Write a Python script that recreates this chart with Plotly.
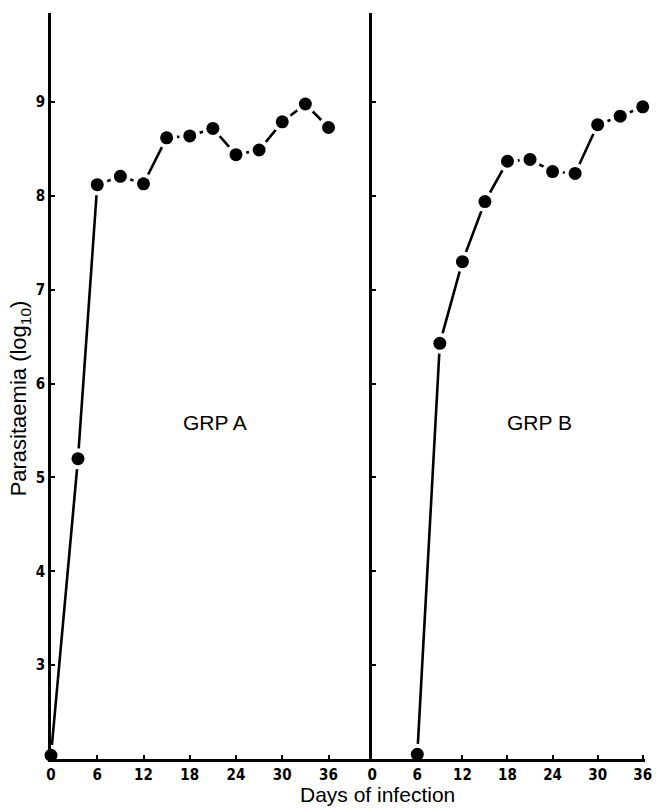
import plotly.graph_objects as go

# ---- data ----
days_a = [0, 3.5, 6, 9, 12, 15, 18, 21, 24, 27, 30, 33, 36]
para_a = [2.04, 5.20, 8.12, 8.21, 8.13, 8.62, 8.64, 8.72, 8.44, 8.49, 8.79, 8.98, 8.73]
days_b = [6, 9, 12, 15, 18, 21, 24, 27, 30, 33, 36]
para_b = [2.05, 6.43, 7.30, 7.94, 8.37, 8.39, 8.26, 8.24, 8.76, 8.85, 8.95]
x_ticks = [0, 6, 12, 18, 24, 30, 36]
y_ticks = [3, 4, 5, 6, 7, 8, 9]
group_labels = ["GRP A", "GRP B"]

tick_font = dict(family="Liberation Sans Narrow, DejaVu Sans Condensed, Arial", size=15,
                 color="black", weight="bold")
text_font = dict(family="Liberation Sans, Arial, Helvetica", size=21, color="black")

fig = go.Figure()

def add_series(xs, ys, xa, ya):
    fig.add_trace(go.Scatter(x=xs, y=ys, xaxis=xa, yaxis=ya, mode="lines",
                             line=dict(color="black", width=2.6), hoverinfo="skip",
                             showlegend=False, cliponaxis=False))
    fig.add_trace(go.Scatter(x=xs, y=ys, xaxis=xa, yaxis=ya, mode="markers",
                             marker=dict(color="white", size=21), hoverinfo="skip",
                             showlegend=False, cliponaxis=False))
    fig.add_trace(go.Scatter(x=xs, y=ys, xaxis=xa, yaxis=ya, mode="markers",
                             marker=dict(color="black", size=13), showlegend=False,
                             cliponaxis=False))

add_series(days_a, para_a, "x", "y")
add_series(days_b, para_b, "x2", "y2")

L, W = 51, 601
split = 325 / W
common_x = dict(showgrid=False, zeroline=False, showline=True, linecolor="black", linewidth=2.5,
                tickmode="array", tickvals=x_ticks, ticktext=[str(v) for v in x_ticks],
                ticks="inside", ticklen=4, tickwidth=2, tickcolor="black", tickfont=tick_font,
                ticklabelstandoff=0)
common_y = dict(showgrid=False, zeroline=False, showline=True, linecolor="black", linewidth=2.5,
                range=[2, 9.95], tickmode="array", tickvals=y_ticks,
                ticks="inside", ticklen=4, tickwidth=2, tickcolor="black", tickfont=tick_font)

fig.update_layout(
    width=660, height=809,
    margin=dict(l=L, r=660 - L - W, t=13, b=50),
    paper_bgcolor="white", plot_bgcolor="white",
    xaxis=dict(domain=[0, split], range=[0, 41.67], anchor="y", **common_x),
    xaxis2=dict(domain=[split, 1], range=[0, 36.3], anchor="y2", **common_x),
    yaxis=dict(domain=[0, 1], anchor="x", ticktext=[str(v) for v in y_ticks], **common_y),
    yaxis2=dict(domain=[0, 1], anchor="x2", showticklabels=False, **common_y),
    annotations=[
        dict(text=group_labels[0], x=21.3, y=5.59, xref="x", yref="y", showarrow=False,
             font=text_font, xanchor="center", yanchor="middle"),
        dict(text=group_labels[1], x=22.2, y=5.59, xref="x2", yref="y2", showarrow=False,
             font=text_font, xanchor="center", yanchor="middle"),
        dict(text="Parasitaemia (log<sub>10</sub>)", x=(20 - L) / W, y=(759 - 398) / 746,
             xref="paper", yref="paper", textangle=-90, showarrow=False,
             font=dict(family=text_font["family"], size=22, color="black"),
             xanchor="center", yanchor="middle"),
        dict(text="Days of infection", x=(381 - L) / W, y=(759 - 807) / 746,
             xref="paper", yref="paper", showarrow=False, font=text_font,
             xanchor="center", yanchor="bottom", borderpad=0),
    ],
)

fig.write_html("out.html", config={"displayModeBar": False},
               post_script="document.body.style.margin='0px';document.body.style.overflow='hidden';")
